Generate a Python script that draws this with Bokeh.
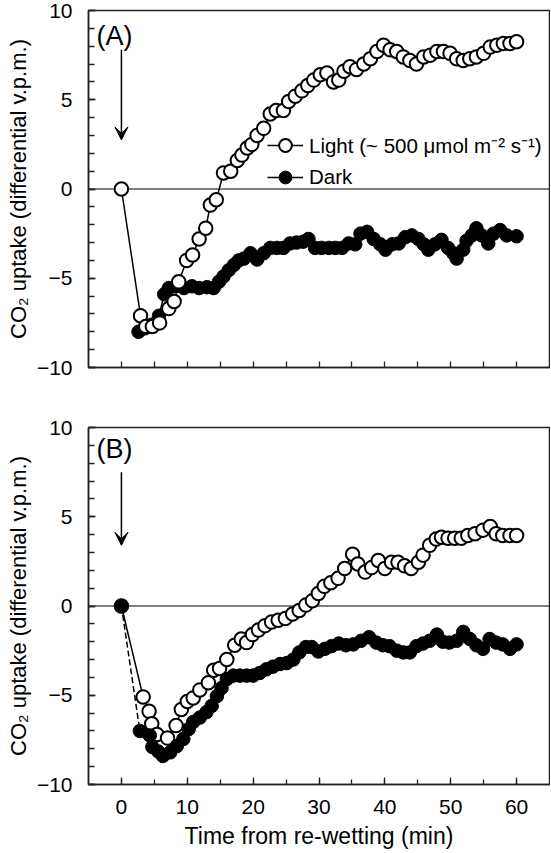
from bokeh.plotting import figure
from bokeh.layouts import column
from bokeh.models import (FixedTicker, Span, Arrow, VeeHead, Label, Legend,
                          LegendItem, Range1d)
from bokeh.embed import file_html
from bokeh.resources import INLINE

FONT = "Liberation Sans"

# ---------------- data ----------------
# Panel A
a_light_t = [0, 2.9, 3.7, 4.7, 5.8, 7.2, 8.0, 8.7, 9.9, 10.8, 11.8, 12.8, 13.5, 14.4,
             15.5, 16.6, 17.6, 18.3, 19.1, 19.8, 20.6, 21.6, 22.6, 23.5, 24.6, 25.4,
             26.4, 27.4, 28.3, 29.2, 30.2, 31.2, 32.2, 33.0, 33.8, 34.7, 35.7, 36.8,
             37.8, 38.8, 39.8, 40.8, 41.8, 42.8, 43.8, 44.8, 45.9, 46.9, 47.9, 48.9,
             49.9, 50.9, 51.9, 52.9, 53.9, 55.0, 56.0, 57.0, 58.0, 59.0, 60.0]
a_light_v = [0, -7.1, -7.7, -7.7, -7.5, -6.7, -6.3, -5.2, -4.0, -3.7, -2.8, -2.2, -0.9, -0.6,
             0.9, 1.0, 1.6, 1.9, 2.3, 2.5, 3.0, 3.4, 4.2, 4.4, 4.4, 4.9,
             5.2, 5.5, 5.8, 6.1, 6.4, 6.5, 6.0, 6.1, 6.6, 6.85, 6.7, 7.0,
             7.3, 7.7, 8.05, 7.8, 7.7, 7.4, 7.2, 7.0, 7.4, 7.5, 7.7, 7.7,
             7.6, 7.3, 7.2, 7.3, 7.4, 7.6, 7.95, 8.05, 8.15, 8.15, 8.25]
a_dark_t = [2.6, 3.6, 4.6, 5.7, 6.5, 7.2, 8.2, 9.5, 10.7, 11.8, 13.0, 14.0, 14.8, 15.5,
            16.3, 17.1, 17.8, 18.6, 19.6, 20.6, 21.6, 22.6, 23.6, 24.6, 25.6, 26.6,
            27.6, 28.4, 29.4, 30.4, 31.5, 32.5, 33.5, 34.5, 35.5, 36.3, 37.3, 38.3,
            39.3, 40.1, 41.1, 42.1, 43.1, 44.1, 45.1, 45.9, 46.6, 47.6, 48.6, 49.6,
            50.4, 50.9, 51.9, 52.4, 53.2, 53.9, 54.7, 55.7, 56.5, 57.5, 58.5, 60.0]
a_dark_v = [-8.0, -7.8, -7.6, -7.1, -5.9, -5.55, -5.45, -5.55, -5.45, -5.55, -5.5, -5.55, -5.2, -4.9,
            -4.55, -4.25, -4.0, -3.9, -3.6, -3.95, -3.6, -3.3, -3.3, -3.3, -3.05, -3.0,
            -2.95, -2.8, -3.3, -3.3, -3.3, -3.3, -3.3, -3.05, -3.1, -2.5, -2.4, -2.8,
            -3.1, -3.4, -3.1, -3.05, -2.7, -2.6, -2.8, -3.1, -3.4, -3.1, -2.85, -3.3,
            -3.6, -3.9, -3.4, -2.9, -2.6, -2.2, -2.6, -3.05, -2.5, -2.3, -2.6, -2.65]

# Panel B
b_light_t = [0, 3.3, 4.2, 4.6, 5.4, 7.0, 8.3, 9.1, 10.0, 10.9, 11.9, 13.2, 14.0, 14.9,
             16.0, 17.2, 18.2, 19.0, 19.9, 20.8, 21.8, 22.8, 23.8, 24.9, 26.0, 27.0,
             28.0, 29.0, 29.9, 30.8, 31.8, 32.9, 33.9, 35.1, 35.9, 37.0, 38.0, 39.0,
             40.0, 41.0, 42.0, 43.0, 44.0, 45.1, 45.8, 46.8, 47.8, 48.6, 49.6, 50.6,
             51.6, 52.6, 53.7, 54.9, 56.0, 56.9, 57.9, 59.0, 60.0]
b_light_v = [0, -5.1, -5.9, -6.6, -7.2, -7.4, -6.7, -5.8, -5.35, -5.15, -4.7, -4.3, -3.6, -3.5,
             -3.0, -2.2, -1.85, -2.05, -1.6, -1.35, -1.1, -0.9, -0.8, -0.7, -0.45, -0.25,
             0.05, 0.3, 0.7, 1.1, 1.3, 1.55, 2.1, 2.9, 2.35, 1.9, 2.15, 2.55,
             2.1, 2.45, 2.45, 2.25, 2.1, 2.45, 2.85, 3.4, 3.75, 3.85, 3.8, 3.8,
             3.8, 3.95, 4.05, 4.25, 4.45, 4.05, 3.95, 3.95, 3.95]
b_dark_t = [0, 2.8, 4.3, 4.7, 5.6, 6.3, 7.4, 8.4, 9.4, 10.2, 10.9, 11.9, 12.9, 13.7,
            14.5, 15.2, 16.0, 17.0, 18.0, 19.0, 20.0, 21.0, 22.0, 23.0, 24.1, 25.1,
            26.1, 27.0, 28.0, 28.9, 29.9, 30.9, 31.9, 33.0, 34.1, 35.2, 36.4, 37.6,
            38.7, 39.7, 40.7, 41.8, 42.8, 43.8, 44.8, 45.8, 46.8, 47.9, 48.8, 49.8,
            50.9, 51.9, 52.9, 53.9, 54.9, 55.9, 56.9, 57.9, 59.0, 60.0]
b_dark_v = [0, -7.0, -7.25, -7.9, -8.15, -8.4, -8.2, -7.85, -7.45, -6.9, -6.5, -6.25, -5.95, -5.6,
            -5.05, -4.6, -4.1, -3.9, -3.9, -3.9, -3.9, -3.75, -3.55, -3.4, -3.25, -3.2,
            -3.0, -2.6, -2.3, -2.3, -2.55, -2.4, -2.25, -2.1, -2.2, -2.15, -1.95, -1.75,
            -2.05, -2.2, -2.25, -2.5, -2.6, -2.6, -2.25, -2.1, -1.95, -1.6, -2.0, -2.05,
            -1.95, -1.45, -1.85, -2.2, -2.4, -1.85, -2.05, -2.15, -2.4, -2.15]

x_major = [0, 10, 20, 30, 40, 50, 60]
x_minor = [0, 5, 10, 15, 20, 25, 30, 35, 40, 45, 50, 55, 60]
y_major = [-10, -5, 0, 5, 10]
y_minor = list(range(-10, 11))
y_tick_labels = {-10: "\u221210", -5: "\u22125", 0: "0", 5: "5", 10: "10"}

x_title = "Time from re-wetting (min)"
y_title = "CO\u2082 uptake (differential v.p.m.)"
light_label = "Light (~ 500 \u03bcmol m\u207b\u00b2 s\u207b\u00b9)"
dark_label = "Dark"


def make_panel(light_t, light_v, dark_t, dark_v, tag, tag_y, arrow_top, arrow_tip,
               dark_dash, dark_on_top, show_x, with_legend, height, b_top, b_bottom):
    p = figure(width=550, height=height, output_backend="svg", toolbar_location=None,
               title=None,
               x_range=Range1d(-5, 65), y_range=Range1d(-10, 10),
               min_border_left=88, min_border_right=1,
               min_border_top=b_top, min_border_bottom=b_bottom)
    p.grid.visible = False
    p.outline_line_color = "#222222"
    p.outline_line_width = 1.5
    p.background_fill_color = "white"
    p.border_fill_color = "white"

    for ax in (p.xaxis[0], p.yaxis[0]):
        ax.axis_line_width = 1.5
        ax.axis_line_color = "#222222"
        ax.major_tick_line_width = 1.3
        ax.minor_tick_line_width = 1.3
        ax.major_tick_out = 0
        ax.minor_tick_out = 0
        ax.major_tick_line_color = "#222222"
        ax.minor_tick_line_color = "#222222"
        ax.major_label_text_font = FONT
        ax.major_label_text_color = "black"
        ax.axis_label_text_font = FONT
        ax.axis_label_text_font_style = "normal"
        ax.axis_label_text_color = "black"

    xa = p.xaxis[0]
    if show_x:
        xa.ticker = FixedTicker(ticks=x_major, minor_ticks=x_minor)
        xa.major_tick_in = 7
        xa.minor_tick_in = 5
        xa.major_label_text_font_size = "21px"
        xa.major_label_standoff = 15
        xa.axis_label = x_title
        xa.axis_label_text_font_size = "23px"
        xa.axis_label_standoff = 6
    else:
        # top panel: tick marks only, no numbers
        xa.ticker = FixedTicker(ticks=[], minor_ticks=x_minor)
        xa.minor_tick_in = 6
        xa.major_label_standoff = 0

    ya = p.yaxis[0]
    ya.ticker = FixedTicker(ticks=y_major, minor_ticks=y_minor)
    ya.major_label_overrides = y_tick_labels
    ya.major_tick_in = 7
    ya.minor_tick_in = 6
    ya.major_label_text_font_size = "21px"
    ya.major_label_standoff = 16
    ya.axis_label = y_title
    ya.axis_label_text_font_size = "22px"
    ya.axis_label_standoff = 3

    p.add_layout(Span(location=0, dimension="width", line_color="black",
                      line_width=1.2, level="underlay"))

    l_line = p.line(light_t, light_v, line_color="black", line_width=1.5)
    d_line = p.line(dark_t, dark_v, line_color="black", line_width=1.5,
                    line_dash=dark_dash)

    def light_sc():
        return p.scatter(light_t, light_v, size=13.5, marker="circle",
                         fill_color="white", line_color="black", line_width=2.0)

    def dark_sc():
        return p.scatter(dark_t, dark_v, size=13.5, marker="circle",
                         fill_color="black", line_color="black", line_width=1.0)

    if dark_on_top:
        l_sc = light_sc()
        d_sc = dark_sc()
    else:
        d_sc = dark_sc()
        l_sc = light_sc()

    p.add_layout(Label(x=-3.8, y=tag_y, text=tag, text_font=FONT,
                       text_font_size="27px", text_baseline="middle",
                       text_color="black"))
    p.add_layout(Arrow(end=VeeHead(size=13, fill_color="black", line_color="black",
                                   line_width=1),
                       x_start=0, y_start=arrow_top, x_end=0, y_end=arrow_tip,
                       line_width=1.5, line_color="black"))

    if with_legend:
        leg = Legend(items=[LegendItem(label=light_label, renderers=[l_line, l_sc]),
                            LegendItem(label=dark_label, renderers=[d_line, d_sc])],
                     location=(179, 174), orientation="vertical",
                     glyph_width=36, glyph_height=32, spacing=-2,
                     label_standoff=6, label_text_font=FONT,
                     label_text_font_size="20.5px", label_text_color="black",
                     padding=0, margin=0, border_line_color=None,
                     background_fill_alpha=0)
        p.add_layout(leg)
    return p


pA = make_panel(a_light_t, a_light_v, a_dark_t, a_dark_v, "(A)", 8.55, 7.8, 2.75,
                "solid", False, False, True, 397, 10, 30)
pB = make_panel(b_light_t, b_light_v, b_dark_t, b_dark_v, "(B)", 8.8, 7.5, 3.4,
                "6 3", True, True, False, 455, 30, 68)

layout = column(pA, pB, spacing=0)
open("out.html", "w").write(file_html(layout, INLINE))
